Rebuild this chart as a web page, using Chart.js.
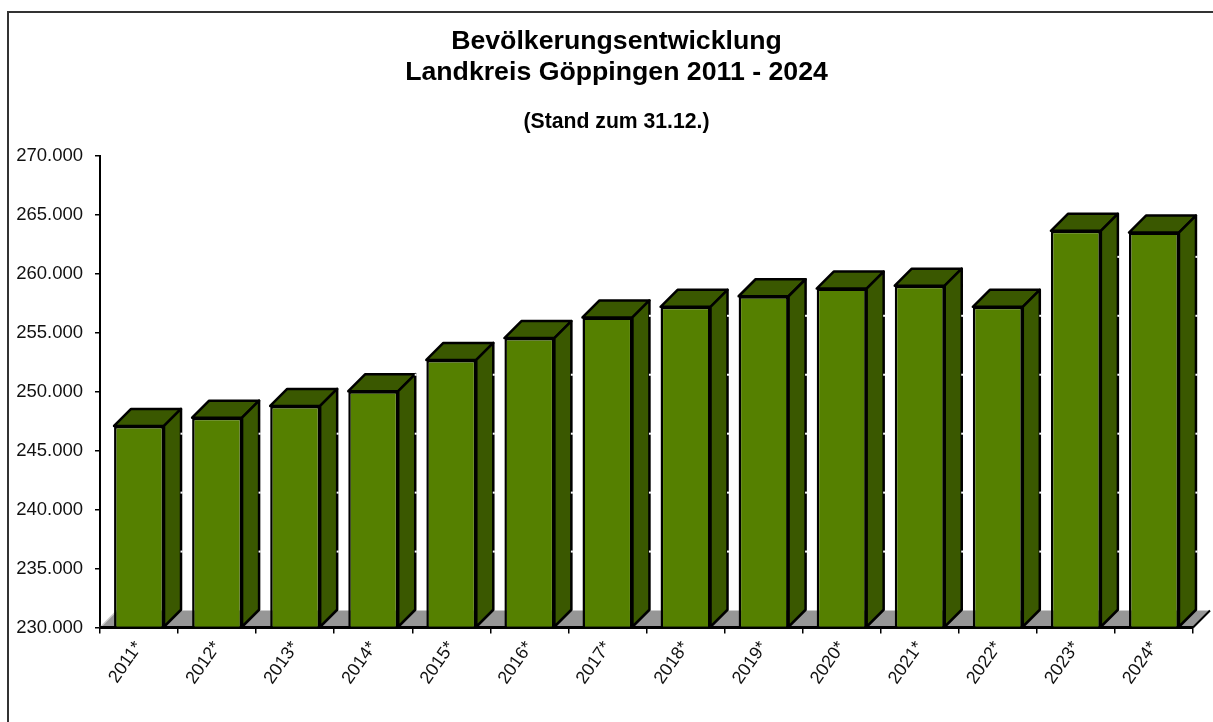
<!DOCTYPE html>
<html>
<head>
<meta charset="utf-8">
<title>Bevölkerungsentwicklung</title>
<script src="https://cdn.jsdelivr.net/npm/chart.js@4/dist/chart.umd.min.js"></script>
<style>
  html, body { margin: 0; padding: 0; background: #fff; overflow: hidden; }
  #frame { position: absolute; left: 7px; top: 11px; width: 1206px; height: 711px;
           border-left: 2px solid #333; border-top: 2px solid #333; box-sizing: border-box; }
  #chart { position: absolute; left: 0; top: 0; }
</style>
</head>
<body>
<div id="frame"></div>
<canvas id="chart" width="1223" height="722"></canvas>
<script>
// Values
const years = ['2011*', '2012*', '2013*', '2014*', '2015*', '2016*', '2017*',
               '2018*', '2019*', '2020*', '2021*', '2022*', '2023*', '2024*'];
const population = [247100, 247800, 248800, 250050, 252700, 254550, 256300,
                    257200, 258100, 258750, 259000, 257200, 263650, 263500];
const titleLines = ['Bevölkerungsentwicklung', 'Landkreis Göppingen 2011 - 2024'];
const subtitleLine = '(Stand zum 31.12.)';

const depth = 17;
const frontColor = '#558000';
const shadeColor = '#3a5800';
const floorColor = '#969696';

// Fake 3D: floor behind the bars, top and side faces on each bar
const bars3d = {
    id: 'bars3d',
    beforeDatasetsDraw(chart) {
        const { ctx, chartArea: a } = chart;
        ctx.save();
        ctx.fillStyle = floorColor;
        ctx.beginPath();
        ctx.moveTo(a.left, a.bottom);
        ctx.lineTo(a.left + depth, a.bottom - depth);
        ctx.lineTo(a.right + depth, a.bottom - depth);
        ctx.lineTo(a.right, a.bottom);
        ctx.closePath();
        ctx.fill();
        ctx.strokeStyle = '#000';
        ctx.lineWidth = 2;
        ctx.beginPath();
        ctx.moveTo(a.right, a.bottom);
        ctx.lineTo(a.right + depth, a.bottom - depth);
        ctx.stroke();
        ctx.strokeStyle = '#ccc';
        ctx.lineWidth = 1.5;
        ctx.beginPath();
        ctx.moveTo(a.left, a.bottom);
        ctx.lineTo(a.left + depth, a.bottom - depth);
        ctx.stroke();
        // the floor paints over the axis line, so put it back
        ctx.strokeStyle = '#000';
        ctx.lineWidth = 3;
        ctx.beginPath();
        ctx.moveTo(a.left, a.bottom);
        ctx.lineTo(a.right, a.bottom);
        ctx.stroke();
        ctx.restore();
    },
    afterDatasetsDraw(chart) {
        const { ctx } = chart;
        const yScale = chart.scales.y;
        ctx.save();
        ctx.lineWidth = 2.5;
        ctx.lineJoin = 'round';
        ctx.strokeStyle = '#000';
        ctx.fillStyle = shadeColor;
        chart.getDatasetMeta(0).data.forEach(bar => {
            const l = bar.x - bar.width / 2;
            const r = bar.x + bar.width / 2;
            const t = bar.y;
            const b = bar.base;
            // top face
            ctx.beginPath();
            ctx.moveTo(l, t);
            ctx.lineTo(l + depth, t - depth);
            ctx.lineTo(r + depth, t - depth);
            ctx.lineTo(r, t);
            ctx.closePath();
            ctx.fill();
            ctx.stroke();
            // side face
            ctx.beginPath();
            ctx.moveTo(r, t);
            ctx.lineTo(r + depth, t - depth);
            ctx.lineTo(r + depth, b - depth);
            ctx.lineTo(r, b);
            ctx.closePath();
            ctx.fill();
            ctx.stroke();
            // white back wall gridlines peek out behind the side face
            yScale.ticks.forEach(tick => {
                const gy = yScale.getPixelForValue(tick.value) - depth;
                if (gy > t - depth && gy < b - depth) {
                    ctx.fillStyle = '#fff';
                    ctx.fillRect(r + depth - 0.5, gy - 1, 2, 2);
                    ctx.fillStyle = shadeColor;
                }
            });
        });
        ctx.restore();
    }
};

new Chart(document.getElementById('chart'), {
    type: 'bar',
    data: {
        labels: years,
        datasets: [{
            data: population,
            base: 230000,
            backgroundColor: frontColor,
            borderColor: '#000',
            borderWidth: 2.5,
            barPercentage: 0.64,
            categoryPercentage: 1,
            clip: false
        }]
    },
    options: {
        responsive: false,
        animation: false,
        layout: { padding: { left: 10, right: 0, top: 0, bottom: 0 } },
        plugins: {
            legend: { display: false },
            tooltip: { enabled: false },
            title: {
                display: true,
                text: titleLines,
                color: '#000',
                font: { family: '"Liberation Sans", Arial, sans-serif', size: 26.7, weight: 'bold', lineHeight: 1.16 },
                padding: { top: 26, bottom: 23 }
            },
            subtitle: {
                display: true,
                text: subtitleLine,
                color: '#000',
                font: { family: '"Liberation Sans", Arial, sans-serif', size: 21.2, weight: 'bold', lineHeight: 1.1 },
                padding: { top: 0, bottom: 21.7 }
            }
        },
        scales: {
            x: {
                grid: { offset: true, drawOnChartArea: false, color: '#000', lineWidth: 1.5, tickLength: 6 },
                border: { color: '#000', width: 3 },
                ticks: {
                    color: '#111',
                    font: { family: '"Liberation Sans", Arial, sans-serif', size: 18 },
                    minRotation: 55,
                    maxRotation: 55,
                    autoSkip: false,
                    padding: 4
                },
                afterFit(scale) { scale.height = 94.5; }
            },
            y: {
                min: 230000,
                max: 270000,
                grid: { drawOnChartArea: false, color: '#000', lineWidth: 1.5, tickLength: 5 },
                border: { color: '#000', width: 2 },
                ticks: {
                    stepSize: 5000,
                    color: '#111',
                    font: { family: '"Liberation Sans", Arial, sans-serif', size: 18.5 },
                    padding: 12,
                    callback: v => v.toLocaleString('de-DE')
                },
                afterFit(scale) { scale.width = 90; }
            },
            // empty axis, only keeps the plot clear of the floor's right end
            pad: {
                position: 'right',
                ticks: { display: false },
                grid: { display: false },
                border: { display: false },
                afterFit(scale) { scale.width = 30; }
            }
        }
    },
    plugins: [bars3d]
});
</script>
</body>
</html>
